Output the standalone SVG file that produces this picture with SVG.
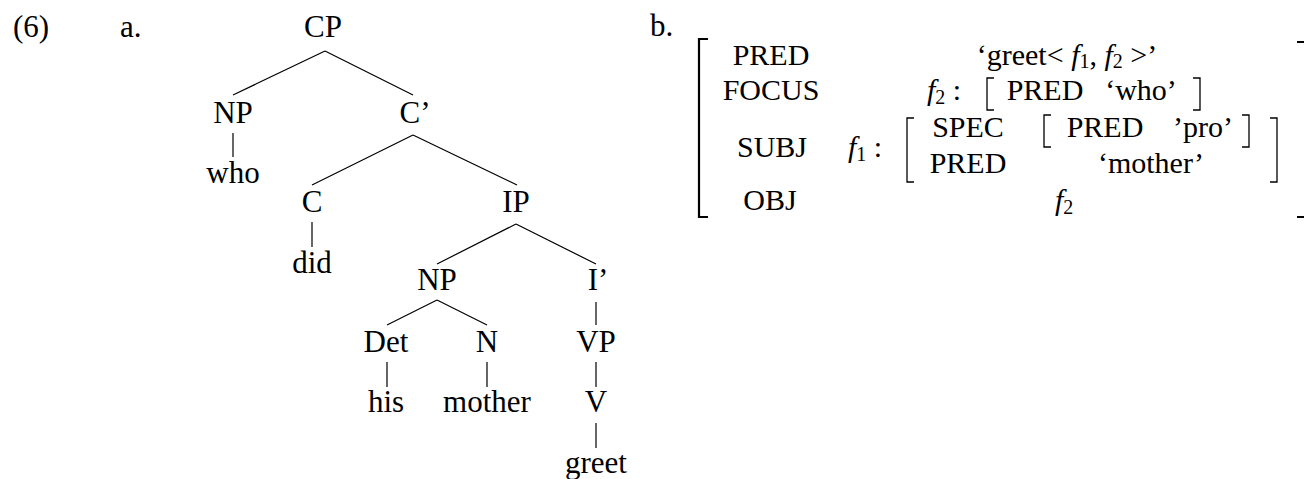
<svg xmlns="http://www.w3.org/2000/svg" width="1304" height="479" viewBox="0 0 1304 479">
<style>
text{font-family:'Liberation Serif','Times New Roman','DejaVu Serif',serif;font-size:31px;fill:#000}
.m{text-anchor:middle}
.i{font-style:italic}
.sub{font-size:20px}
.fs{font-size:30px}
.edge{stroke:#000;stroke-width:1.2;fill:none}
.br{stroke:#000;stroke-width:1.3;fill:none}
.brb{stroke:#000;stroke-width:2.2;fill:none}
</style>
<rect width="1304" height="479" fill="#fff"/>
<text x="13" y="37">(6)</text>
<text x="120" y="37">a.</text>
<text x="650" y="36">b.</text>

<g id="connectors">
<path class="edge" d="M325,51 L233,95 M325,51 L413,95"/>
<path class="edge" d="M233,133 V157"/>
<path class="edge" d="M413,135 L312,185 M413,135 L517,185"/>
<path class="edge" d="M312,222 V247"/>
<path class="edge" d="M516,224 L437,264 M516,224 L596,264"/>
<path class="edge" d="M437,300 L387,325 M437,300 L487,325"/>
<path class="edge" d="M596,302 V325"/>
<path class="edge" d="M387,362 V387 M487,362 V387 M596,362 V387"/>
<path class="edge" d="M596,423 V448"/>
</g>

<g id="CP"><text class="m" x="323" y="37">CP</text></g>
<g id="NP1"><text class="m" x="233" y="123">NP</text></g>
<g id="who"><text class="m" x="233" y="183">who</text></g>
<g id="Cbar"><text class="m" x="415" y="123">C’</text></g>
<g id="C"><text class="m" x="312" y="212">C</text></g>
<g id="did"><text class="m" x="312" y="273">did</text></g>
<g id="IP"><text class="m" x="516" y="212">IP</text></g>
<g id="NP2"><text class="m" x="437" y="290">NP</text></g>
<g id="Ibar"><text class="m" x="598" y="290">I’</text></g>
<g id="Det"><text class="m" x="386" y="352">Det</text></g>
<g id="N"><text class="m" x="487" y="352">N</text></g>
<g id="VP"><text class="m" x="596" y="352">VP</text></g>
<g id="his"><text class="m" x="386" y="412">his</text></g>
<g id="mother"><text class="m" x="487" y="412">mother</text></g>
<g id="V"><text class="m" x="596" y="412">V</text></g>
<g id="greet"><text class="m" x="596" y="473">greet</text></g>

<g id="fstructure">
<path class="brb" d="M708,39 H699 V217 H708"/>
<path class="brb" d="M1297,42 H1306 V217 H1297"/>
<text class="m fs" x="771" y="65">PRED</text>
<text class="m fs" x="771" y="100">FOCUS</text>
<text class="m fs" x="772" y="157">SUBJ</text>
<text class="m fs" x="770" y="210">OBJ</text>

<text class="m fs" x="1067" y="65">‘greet&lt; <tspan class="i">f</tspan><tspan class="sub" dy="3">1</tspan><tspan dy="-3">, </tspan><tspan class="i">f</tspan><tspan class="sub" dy="3">2</tspan><tspan dy="-3"> &gt;’</tspan></text>

<text class="fs" x="927" y="100"><tspan class="i">f</tspan><tspan class="sub" dy="4">2</tspan><tspan dy="-4"> :</tspan></text>
<path class="br" d="M994,78 H987 V110 H994"/>
<text class="m fs" x="1045" y="100">PRED</text>
<text class="m fs" x="1141" y="100">‘who’</text>
<path class="br" d="M1193,78 H1200 V110 H1193"/>

<text class="fs" x="848" y="157"><tspan class="i">f</tspan><tspan class="sub" dy="4">1</tspan><tspan dy="-4"> :</tspan></text>
<path class="br" d="M914,118 H907 V182 H914"/>
<text class="m fs" x="968" y="137">SPEC</text>
<text class="m fs" x="968" y="173">PRED</text>
<path class="br" d="M1051,115 H1044 V147 H1051"/>
<text class="m fs" x="1105" y="137">PRED</text>
<text class="m fs" x="1203" y="137">’pro’</text>
<path class="br" d="M1242,115 H1249 V147 H1242"/>
<text class="m fs" x="1151" y="173">‘mother’</text>
<path class="br" d="M1270,118 H1277 V182 H1270"/>

<text class="fs" x="1055" y="210"><tspan class="i">f</tspan><tspan class="sub" dy="4">2</tspan></text>
</g>
</svg>
